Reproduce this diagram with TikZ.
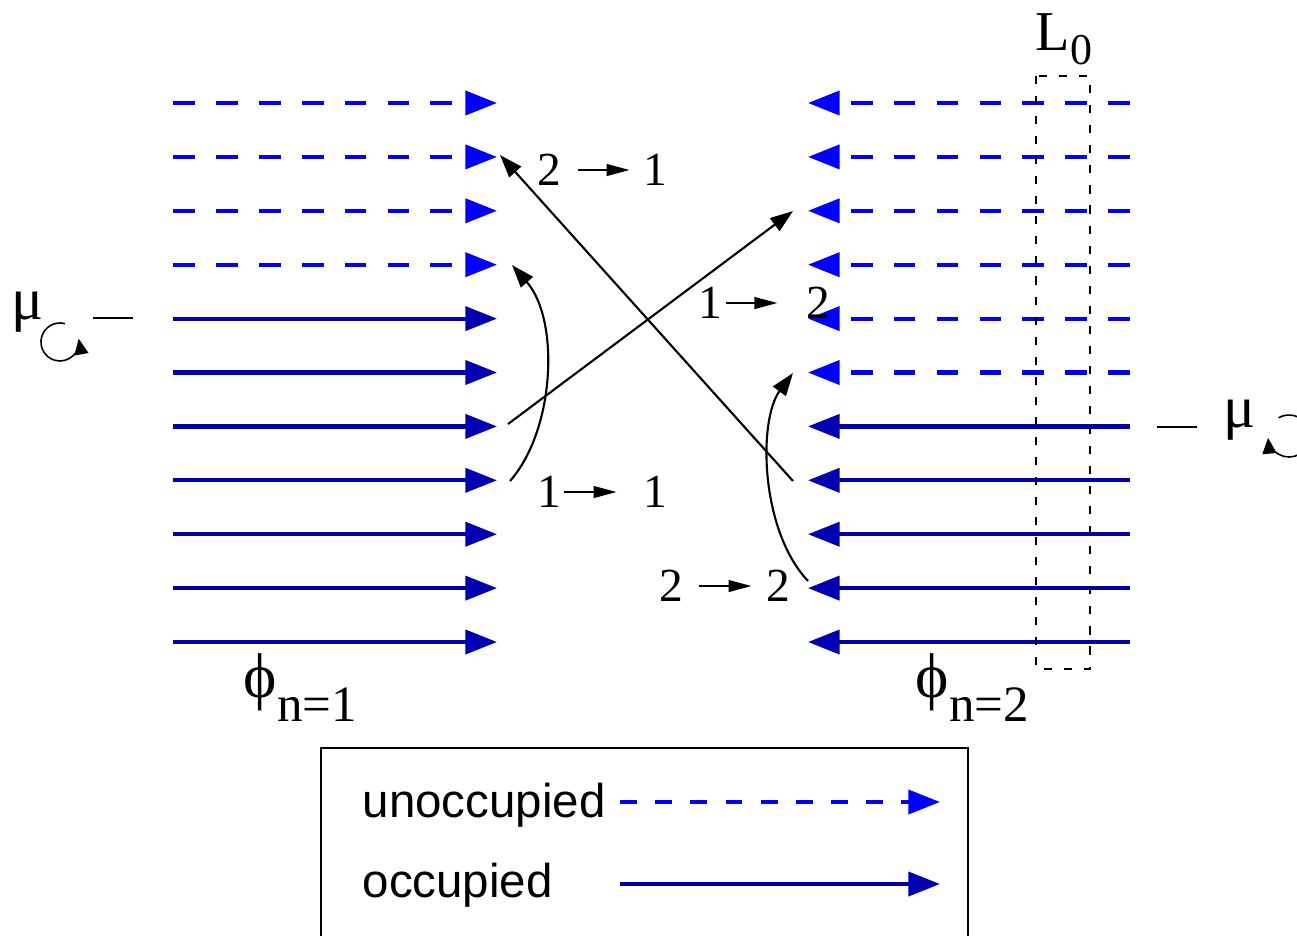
\documentclass[tikz,border=0pt]{standalone}
\usepackage{fontspec}
\setmainfont{Liberation Serif}
\newfontfamily\legendfont{Liberation Sans}
\usetikzlibrary{arrows.meta}
\definecolor{unoccblue}{RGB}{0,0,255}
\definecolor{occblue}{RGB}{0,0,176}

\begin{document}
\begin{tikzpicture}[x=0.01cm, y=-0.01cm,
  level/.style={line width=1.2pt, -{Triangle[length=9pt,width=6.8pt]}},
  unocc/.style={level, unoccblue, dash pattern=on 6.2pt off 6pt},
  occ/.style={level, occblue},
  jump/.style={line width=0.6pt, -{Triangle[length=6.5pt,width=4.5pt]}},
  hop/.style={line width=0.35pt, -{Triangle[length=6.5pt,width=3.4pt]}},
  spin/.style={line width=0.45pt, -{Triangle[length=4.5pt,width=4pt]}},
  digit/.style={inner sep=0pt, font=\fontsize{13.5}{16}\selectfont},
  greek/.style={inner sep=0pt, anchor=base west, font=\fontsize{18}{21}\selectfont},
  legend/.style={inner sep=0pt, anchor=base west, font=\legendfont\fontsize{13.5}{16}\selectfont}
]
\useasboundingbox (0,0) rectangle (1297,935);

% energy levels
\foreach \i in {1,...,11}{
  \coordinate (ls\i) at (173,{103+53.9*(\i-1)});
  \coordinate (le\i) at (497,{103+53.9*(\i-1)});
  \coordinate (rs\i) at (1130,{103+53.9*(\i-1)});
  \coordinate (re\i) at (808,{103+53.9*(\i-1)});
}
\foreach \i in {1,...,4} \draw[unocc] (ls\i) -- (le\i);
\foreach \i in {5,...,11} \draw[occ] (ls\i) -- (le\i);
\foreach \i in {1,...,6} \draw[unocc] (rs\i) -- (re\i);
\foreach \i in {7,...,11} \draw[occ] (rs\i) -- (re\i);

% transitions
\coordinate (from21) at (793,481);
\coordinate (to21) at (500,155);
\coordinate (from12) at (508,424);
\coordinate (to12) at (793,211);
\coordinate (from11) at (510,481);
\coordinate (to11) at (512,265);
\coordinate (from22) at (808,581);
\coordinate (to22) at (793,373);
\draw[jump] (from21) -- (to21);
\draw[jump] (from12) -- (to12);
\draw[jump] (from11) .. controls (555,430) and (560,320) .. (to11);
\draw[jump] (from22) .. controls (760,530) and (758,420) .. (to22);

\node[digit] (t21a) at (549,170) {2};
\node[digit] (t21b) at (655,170) {1};
\draw[hop, shorten <=4.8pt, shorten >=3.7pt] (t21a) -- (t21b);
\node[digit] (t12a) at (710,303) {1};
\node[digit] (t12b) at (818,303) {2};
\draw[hop, shorten <=0.9pt, shorten >=8pt] (t12a) -- (t12b);
\node[digit] (t11a) at (549,492) {1};
\node[digit] (t11b) at (655,492) {1};
\draw[hop, shorten <=0.6pt, shorten >=7.4pt] (t11a) -- (t11b);
\node[digit] (t22a) at (671,586) {2};
\node[digit] (t22b) at (778,586) {2};
\draw[hop, shorten <=4.3pt, shorten >=4pt] (t22a) -- (t22b);

% chemical potentials
\node[inner sep=0pt, font=\fontsize{17}{20}\selectfont] (muleft) at (28,312) {μ};
\node[inner sep=0pt, font=\fontsize{17}{20}\selectfont] (muright) at (1240,420) {μ};
\coordinate (mlA) at (93,318);
\coordinate (mlB) at (133,318);
\coordinate (mrA) at (1157,427);
\coordinate (mrB) at (1197,427);
\draw[line width=0.4pt] (mlA) -- (mlB);
\draw[line width=0.4pt] (mrA) -- (mrB);
\draw[spin] (64.9,323.6) arc[start angle=75, end angle=370, radius=0.19cm];
\draw[spin] (1278.5,417.8) arc[start angle=120, end angle=-175, radius=0.21cm];

% L0 window
\draw[line width=0.35pt, dash pattern=on 2.3pt off 3.4pt] (1036,76) rectangle (1090,669);
\node[inner sep=0pt, anchor=base west, font=\fontsize{16}{19}\selectfont] (lzero) at (1035,50)
  {L\raisebox{-4pt}{\fontsize{12.5}{15}\selectfont 0}};

% wave functions
\node[greek] (phione) at (243,697) {ϕ\raisebox{-7pt}{\fontsize{14.5}{17}\selectfont n=1}};
\node[greek] (phitwo) at (915,697) {ϕ\raisebox{-7pt}{\fontsize{14.5}{17}\selectfont n=2}};

% legend
\draw[line width=0.45pt] (321,945) -- (321,748) -- (968,748) -- (968,945);
\node[legend] (lgunocc) at (362,817) {unoccupied};
\node[legend] (lgocc) at (362,897) {occupied};
\coordinate (lgua) at (620,802);
\coordinate (lgub) at (940,802);
\coordinate (lgoa) at (620,884);
\coordinate (lgob) at (940,884);
\draw[level, unoccblue, dash pattern=on 4.8pt off 5.2pt] (lgua) -- (lgub);
\draw[occ] (lgoa) -- (lgob);
\end{tikzpicture}
\end{document}
